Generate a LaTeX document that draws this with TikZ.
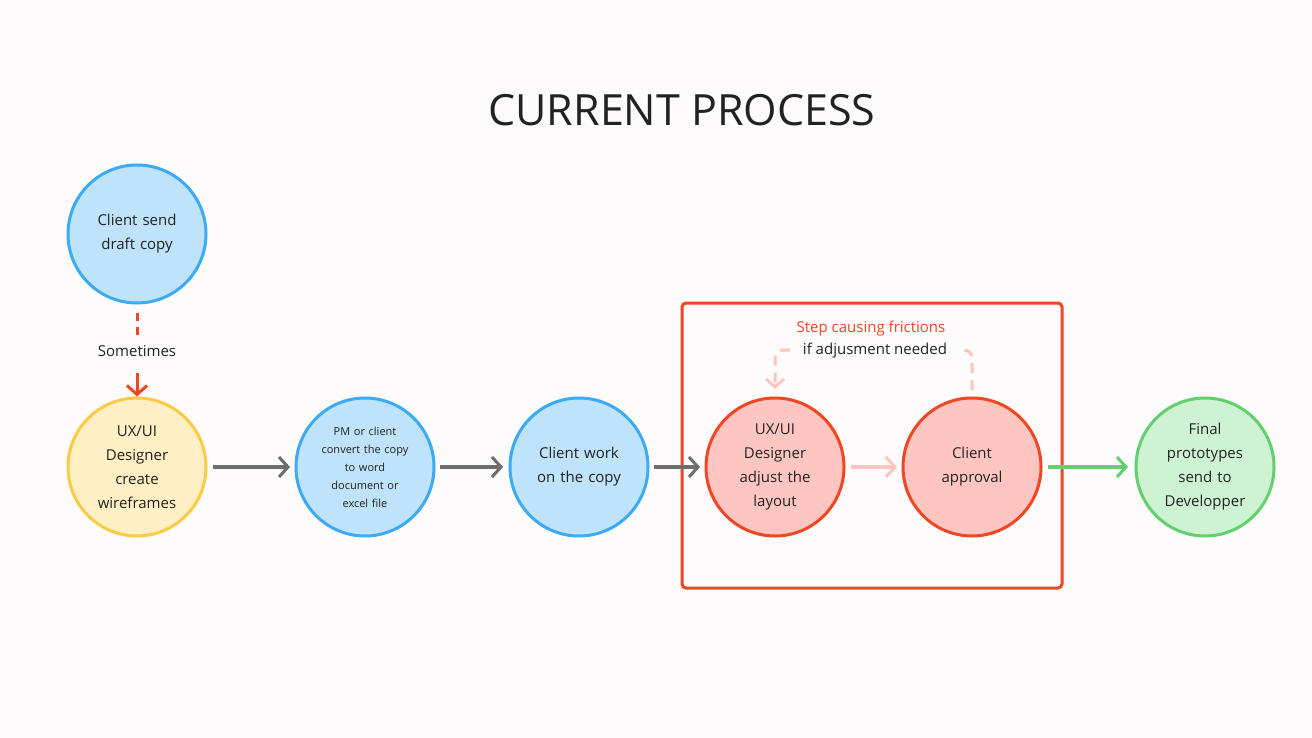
\documentclass[tikz,border=0pt]{standalone}
\usepackage{fontspec}
\setmainfont{Open Sans}
\usetikzlibrary{arrows.meta}
\definecolor{bg}{HTML}{FDFBFB}
\definecolor{bfill}{HTML}{BEE3FB}\definecolor{bline}{HTML}{3DAAF5}
\definecolor{yfill}{HTML}{FFEFC4}\definecolor{yline}{HTML}{FBCB47}
\definecolor{rfill}{HTML}{FFC6C1}\definecolor{rline}{HTML}{EF4624}
\definecolor{gfill}{HTML}{CEF3D3}\definecolor{gline}{HTML}{62D06E}
\definecolor{pinkc}{HTML}{FFC4C0}\definecolor{grayc}{HTML}{6E6E6E}
\definecolor{txt}{HTML}{222222}
\begin{document}
\begin{tikzpicture}[x=1pt,y=-1pt,
 circ/.style={circle,minimum size=138pt,line width=3pt,inner sep=0pt,align=center,text width=92pt,font=\fontsize{15}{24}\selectfont,text=txt},
 arr/.style={line width=3.5pt,-{Straight Barb[length=9pt,width=20pt,line width=3pt]}},
]
\fill[bg] (0,0) rectangle (1312,738);
\useasboundingbox (0,0) rectangle (1312,738);
\node[text=txt,font=\fontsize{43}{50}\selectfont] (title) at (682,110) {CURRENT PROCESS};
\node[draw=rline,line width=3pt,rounded corners=4pt,minimum width=380pt,minimum height=285pt] (box) at (872,445.5) {};
\node[circ,draw=bline,fill=bfill] (a) at (137,234) {Client send\\draft copy};
\node[circ,draw=yline,fill=yfill] (b) at (137,467) {UX/UI\\Designer\\create\\wireframes};
\node[circ,draw=bline,fill=bfill,font=\fontsize{11}{18}\selectfont] (c) at (365,467) {PM or client\\convert the copy\\to word\\document or\\excel file};
\node[circ,draw=bline,fill=bfill] (d) at (579,467) {Client work\\on the copy};
\node[circ,draw=rline,fill=rfill] (e) at (775,467) {UX/UI\\Designer\\adjust the\\layout};
\node[circ,draw=rline,fill=rfill] (f) at (972,467) {Client\\approval};
\node[circ,draw=gline,fill=gfill] (g) at (1205,467) {Final\\prototypes\\send to\\Developper};
\node[text=txt,font=\fontsize{15}{18}\selectfont] (st) at (137,351) {Sometimes};
\node[text=rline,font=\fontsize{15}{18}\selectfont] (fr) at (871,329) {Step causing frictions};
\node[text=txt,font=\fontsize{15}{18}\selectfont] (ad) at (875,351) {if adjusment needed};
\draw[rline,line width=3pt,dash pattern=on 8pt off 6pt] (a.south)++(0,8) coordinate (a1) -- ++(0,22) coordinate (a2);
\draw[rline,arr,line width=3pt] (137,373) -- (b.north);
\draw[grayc,arr] (213,467) -- (290,467);
\draw[grayc,arr] (440,467) -- (503,467);
\draw[grayc,arr] (654,467) -- (700,467);
\draw[pinkc,arr] (851,467) -- (897,467);
\draw[gline,arr] (1048,467) -- (1128,467);
\draw[pinkc,line width=3pt,dash pattern=on 10pt off 7pt,rounded corners=8pt] (972,390) -- (972,350) -- (960,350);
\draw[pinkc,line width=3pt,dash pattern=on 10pt off 7pt,rounded corners=8pt,-{Straight Barb[length=8pt,width=18pt,line width=3pt]}] (790,350) -- (775,350) -- (775,389);
\end{tikzpicture}
\end{document}
